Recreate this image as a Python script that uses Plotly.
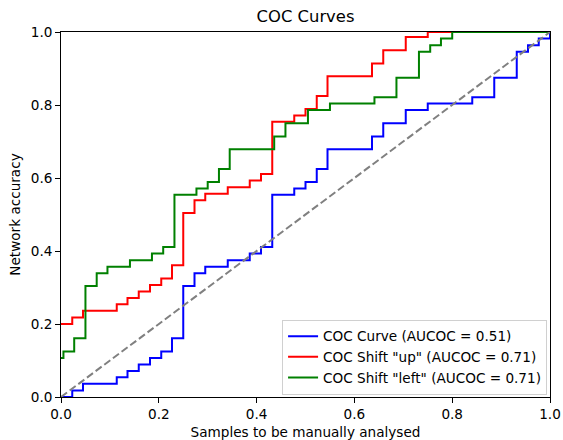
import plotly.graph_objects as go

# COC curve (step, post)
coc_x = [0, 0.023, 0.045, 0.114, 0.136, 0.159, 0.182, 0.205, 0.227, 0.25, 0.273, 0.295,
         0.341, 0.386, 0.409, 0.432, 0.477, 0.5, 0.523, 0.545, 0.636, 0.659, 0.705, 0.75,
         0.841, 0.886, 0.932, 0.955, 0.977, 1.0]
coc_y = [0, 0.018, 0.036, 0.054, 0.071, 0.089, 0.107, 0.125, 0.161, 0.304, 0.339, 0.357,
         0.375, 0.393, 0.411, 0.554, 0.571, 0.589, 0.625, 0.679, 0.714, 0.75, 0.786, 0.804,
         0.821, 0.875, 0.946, 0.964, 0.982, 1.0]

# Shift "up"
up_x = [0, 0.023, 0.045, 0.114, 0.136, 0.159, 0.182, 0.205, 0.227, 0.25, 0.273, 0.295,
        0.341, 0.386, 0.409, 0.432, 0.477, 0.5, 0.523, 0.545, 0.636, 0.659, 0.705, 0.75, 1.0]
up_y = [0.2, 0.218, 0.236, 0.254, 0.271, 0.289, 0.307, 0.325, 0.361, 0.504, 0.539, 0.557,
        0.575, 0.593, 0.611, 0.754, 0.771, 0.789, 0.825, 0.879, 0.914, 0.95, 0.986, 1.0, 1.0]

# Shift "left"
left_x = [0, 0.005, 0.027, 0.05, 0.073, 0.095, 0.141, 0.186, 0.209, 0.232, 0.277, 0.3,
          0.323, 0.345, 0.436, 0.459, 0.505, 0.55, 0.641, 0.686, 0.732, 0.755, 0.777, 0.8, 1.0]
left_y = [0.107, 0.125, 0.161, 0.304, 0.339, 0.357, 0.375, 0.393, 0.411, 0.554, 0.571, 0.589,
          0.625, 0.679, 0.714, 0.75, 0.786, 0.804, 0.821, 0.875, 0.946, 0.964, 0.982, 1.0, 1.0]

diag = [0, 1]
ticks = [0.0, 0.2, 0.4, 0.6, 0.8, 1.0]
tick_labels = ["0.0", "0.2", "0.4", "0.6", "0.8", "1.0"]

FS = 13.6

fig = go.Figure()
fig.add_trace(go.Scatter(x=coc_x, y=coc_y, mode="lines", line=dict(shape="hv", color="#0000ff", width=2),
                         name="COC Curve (AUCOC = 0.51)"))
fig.add_trace(go.Scatter(x=up_x, y=up_y, mode="lines", line=dict(shape="hv", color="#ff0000", width=2),
                         name='COC Shift "up" (AUCOC = 0.71)'))
fig.add_trace(go.Scatter(x=left_x, y=left_y, mode="lines", line=dict(shape="hv", color="#008000", width=2),
                         name='COC Shift "left" (AUCOC = 0.71)'))
fig.add_trace(go.Scatter(x=diag, y=diag, mode="lines", line=dict(color="#808080", width=2, dash="7.5px,3.3px"),
                         showlegend=False))

axis_common = dict(range=[0, 1], tickvals=ticks, ticktext=tick_labels, showgrid=False, zeroline=False,
                   showline=True, mirror=True, linecolor="black", linewidth=1.1,
                   ticks="outside", ticklen=4.8, tickcolor="black", tickwidth=1.1,
                   tickfont=dict(size=FS, color="black"), automargin=False)

fig.update_layout(
    width=563, height=440,
    margin=dict(l=60.5, r=12.5, t=31.7, b=42.5, autoexpand=False),
    paper_bgcolor="white", plot_bgcolor="white",
    font=dict(family="DejaVu Sans", size=FS, color="black"),
    title=dict(text="COC Curves", x=0.5, xref="paper", xanchor="center",
               y=1 - 16 / 440, yref="container", yanchor="middle", font=dict(size=16.4)),
    xaxis=dict(axis_common, title=dict(text="Samples to be manually analysed", standoff=6, font=dict(size=FS))),
    yaxis=dict(axis_common, title=dict(text="Network accuracy", standoff=7, font=dict(size=FS))),
    legend=dict(x=0.994, y=0.006, xanchor="right", yanchor="bottom", bgcolor="rgba(255,255,255,0.8)",
                bordercolor="#d0d0d0", borderwidth=1, font=dict(size=FS), tracegroupgap=0, itemwidth=30),
)

fig.write_html("out.html", config={"displayModeBar": False},
               post_script="document.body.style.margin='0';document.body.style.overflow='hidden';")
